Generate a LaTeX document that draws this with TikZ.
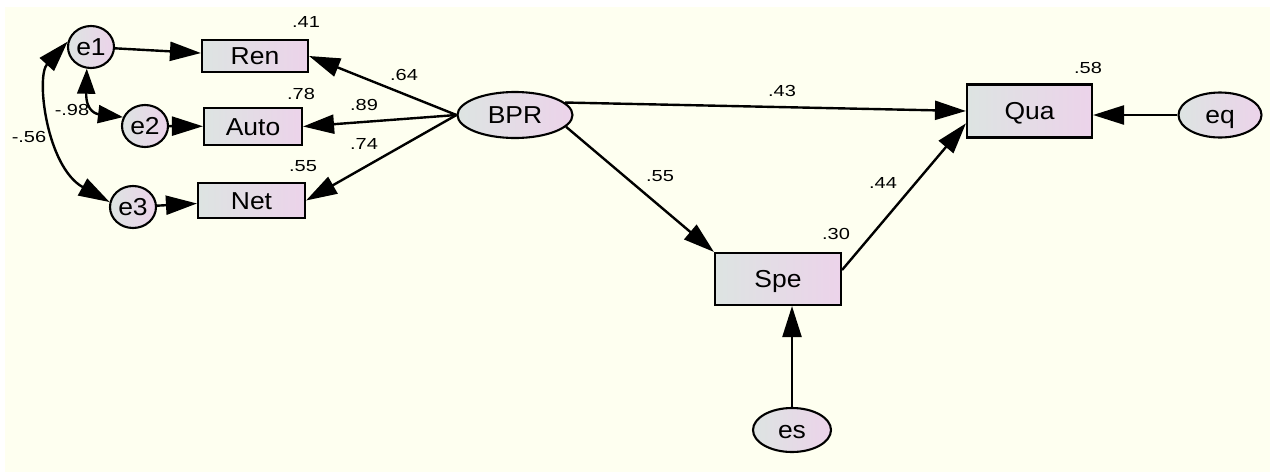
\documentclass[tikz,border=0pt]{standalone}
\usepackage{fontspec}
\setmainfont{Liberation Sans}
\newfontfamily\varfont[FakeStretch=1.08]{Liberation Sans}
\newfontfamily\coeffont[FakeStretch=1.25]{Liberation Sans}
\usetikzlibrary{arrows.meta,shapes.geometric}
\definecolor{paper}{RGB}{254,255,240}
\definecolor{fillL}{RGB}{221,228,226}
\definecolor{fillR}{RGB}{236,211,234}
\begin{document}
\begin{tikzpicture}[x=1pt,y=-1pt,
  varbox/.style={draw,line width=2.1pt,left color=fillL,right color=fillR,
    font=\varfont\fontsize{24.5}{24.5}\selectfont,inner sep=0pt,
    text height=17.5pt,text depth=0pt},
  obs/.style={varbox,rectangle},
  lat/.style={varbox,ellipse},
  tip/.tip={Triangle[length=31pt,width=19pt]},
  reg/.style={line width=2.4pt,-tip},
  cov/.style={line width=2.4pt,tip-tip},
  coef/.style={font=\coeffont\fontsize{16}{16}\selectfont,inner sep=0pt}
]
\useasboundingbox (0,0) rectangle (1270,472);
\fill[white] (0,0) rectangle (1270,472);
\fill[paper] (5,7) rectangle (1270,472);

% latent and error variables
\node[lat,minimum width=46pt,minimum height=42pt] (e1) at (91,47) {e1};
\node[lat,minimum width=46pt,minimum height=42pt] (e2) at (145,126) {e2};
\node[lat,minimum width=46pt,minimum height=42pt] (e3) at (133,207) {e3};
\node[lat,minimum width=115pt,minimum height=46pt] (BPR) at (515,115) {BPR};
\node[lat,minimum width=83pt,minimum height=45pt] (eq) at (1220,115) {eq};
\node[lat,minimum width=78pt,minimum height=44pt] (es) at (792,430) {es};

% observed variables
\node[obs,minimum width=106pt,minimum height=32pt] (Ren) at (255,56) {Ren};
\node[obs,minimum width=98pt,minimum height=37pt] (Auto) at (253,126.5) {Auto};
\node[obs,minimum width=107pt,minimum height=35pt] (Net) at (251.5,200.5) {Net};
\node[obs,minimum width=126pt,minimum height=52pt] (Spe) at (778,279) {Spe};
\node[obs,minimum width=125pt,minimum height=53pt] (Qua) at (1029.5,111) {Qua};

% regression paths
\draw[reg] (e1) -- (Ren);
\draw[reg] (e2) -- (Auto);
\draw[reg] (e3) -- (Net);
\draw[reg] (BPR.west) -- (Ren.east);
\draw[reg] (BPR.west) -- (Auto.east);
\draw[reg] (BPR.west) -- (Net.east);
\draw[reg] (BPR.14) -- (Qua.west);
\draw[reg] (BPR.-13) -- (Spe.north west);
\draw[reg] (Spe.8) -- (Qua.191);
\draw[reg] (eq.west) -- (eq.west -| Qua.east);
\draw[reg] (es.north) -- (es.north |- Spe.south);

% error covariances
\draw[cov] (e1.167) .. controls +(-32,35) and +(-63,-35) .. (e3.168);
\draw[cov,tip/.tip={Triangle[length=25pt,width=18pt]}]
  (e1.259) .. controls +(-1,44) and +(-25,-3) .. (e2.158);

% estimates
\node[coef] (r41) at (306,22) {.41};
\node[coef] (r78) at (301,94) {.78};
\node[coef] (r55n) at (303,166) {.55};
\node[coef] (w64) at (404,75) {.64};
\node[coef] (w89) at (364,105) {.89};
\node[coef] (w74) at (364,144) {.74};
\node[coef] (c98) at (72,110) {-.98};
\node[coef] (c56) at (29,137) {-.56};
\node[coef] (w43) at (782,91) {.43};
\node[coef] (w55) at (660,176) {.55};
\node[coef] (r30) at (836,234) {.30};
\node[coef] (r58) at (1088,68) {.58};
\node[coef] (w44) at (883,183) {.44};
\end{tikzpicture}
\end{document}
